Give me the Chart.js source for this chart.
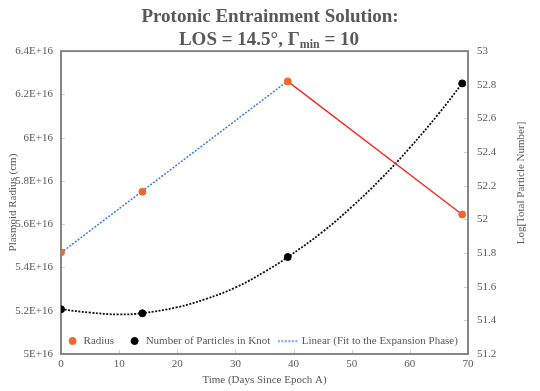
<!DOCTYPE html>
<html>
<head>
<meta charset="utf-8">
<script src="https://cdn.jsdelivr.net/npm/chart.js@4.4.1/dist/chart.umd.min.js"></script>
<style>
html, body { margin: 0; padding: 0; background: #fff; }
</style>
</head>
<body>
<canvas id="chart" width="540" height="391"></canvas>
<script>
// values
const radiusDays = [0, 14, 39, 69];
const radiusCm = [5.47e16, 5.75e16, 6.26e16, 5.645e16];

const particleDays = [0, 14, 39, 69];
const logParticles = [51.466, 51.442, 51.776, 52.808];

// linear fit drawn over the expansion phase
const fitDays = [0, 39];
const fitRadius = [5.468e16, 6.262e16];

// red segment after the peak
const contractDays = [39, 69];
const contractRadius = [6.26e16, 5.645e16];

// dotted trend curve through the particle points
const trendDays = [0, 5, 10, 14, 20, 25, 30, 35, 39, 45, 50, 55, 60, 65, 69];
const trendLog = [51.466, 51.446, 51.435, 51.443, 51.478, 51.528, 51.595, 51.688, 51.776, 51.926, 52.074, 52.24, 52.426, 52.63, 52.808];

const xTicks = [0, 10, 20, 30, 40, 50, 60, 70];
const leftRange = [5e16, 6.4e16];
const rightRange = [51.2, 53];

const grey = '#595959';
const orange = '#F0692A';
const blue = '#3F7BF0';
const serif = "'Liberation Serif', 'Times New Roman', serif";

function pts(xs, ys) {
	return xs.map(function(x, i) { return { x: x, y: ys[i] }; });
}

// little dotted line used as the legend marker of the fit
var fitMark = document.createElement('canvas');
fitMark.width = 26;
fitMark.height = 3;
(function() {
	var c = fitMark.getContext('2d');
	c.strokeStyle = blue;
	c.lineWidth = 1.5;
	c.setLineDash([2, 1.5]);
	c.beginPath();
	c.moveTo(0, 1.5);
	c.lineTo(20, 1.5);
	c.stroke();
})();

// move the legend inside the plot, near its bottom
var legendInside = {
	id: 'legendInside',
	afterLayout: function(chart) {
		var lg = chart.legend, a = chart.chartArea;
		lg.left = a.left - 34;
		lg.right = a.right + 30;
		lg.width = lg.right - lg.left;
		lg.top = 320.5;
		lg.bottom = lg.top + 40;
		lg.height = 40;
	}
};

var frame = {
	id: 'frame',
	beforeDatasetsDraw: function(chart) {
		var ctx = chart.ctx, a = chart.chartArea, s = chart.scales;
		ctx.save();
		ctx.strokeStyle = '#d0d0d0';
		ctx.lineWidth = 1;
		ctx.beginPath();
		s.x.ticks.forEach(function(t) {
			var px = Math.round(s.x.getPixelForValue(t.value)) + 0.5;
			ctx.moveTo(px, a.bottom);
			ctx.lineTo(px, a.bottom - 4);
		});
		s.y.ticks.forEach(function(t) {
			var py = Math.round(s.y.getPixelForValue(t.value)) + 0.5;
			ctx.moveTo(a.left, py);
			ctx.lineTo(a.left + 4, py);
		});
		s.y1.ticks.forEach(function(t) {
			var py = Math.round(s.y1.getPixelForValue(t.value)) + 0.5;
			ctx.moveTo(a.right, py);
			ctx.lineTo(a.right - 4, py);
		});
		ctx.stroke();
		ctx.strokeStyle = '#868686';
		ctx.lineWidth = 2;
		ctx.strokeRect(a.left, a.top, a.right - a.left, a.bottom - a.top);
		ctx.restore();
	},
	afterDraw: function(chart) {
		var ctx = chart.ctx;
		ctx.save();
		ctx.fillStyle = grey;
		ctx.textBaseline = 'middle';

		// second title line, with the subscript
		var big = 'bold 19px ' + serif, small = 'bold 12px ' + serif;
		var p1 = 'LOS = 14.5\u00B0, \u0393', p2 = 'min', p3 = ' = 10';
		ctx.font = big;
		var w1 = ctx.measureText(p1).width, w3 = ctx.measureText(p3).width;
		ctx.font = small;
		var w2 = ctx.measureText(p2).width;
		var x = chart.width / 2 - (w1 + w2 + w3) / 2 - 1, y = 40;
		ctx.textAlign = 'left';
		ctx.font = big;
		ctx.fillText(p1, x, y);
		ctx.font = small;
		ctx.fillText(p2, x + w1, y + 5);
		ctx.font = big;
		ctx.fillText(p3, x + w1 + w2, y);

		// right axis title, reading upwards
		ctx.font = '11px ' + serif;
		ctx.textAlign = 'center';
		ctx.translate(521, 183);
		ctx.rotate(-Math.PI / 2);
		ctx.fillText('Log[Total Particle Number]', 0, 0);
		ctx.restore();
	}
};

var ctx = document.getElementById('chart');

var chart = new Chart(ctx, {
	type: 'scatter',
	data: {
		datasets: [
			{
				label: 'Radius',
				data: pts(radiusDays, radiusCm),
				yAxisID: 'y',
				showLine: false,
				pointRadius: 3.5,
				pointStyle: 'circle',
				backgroundColor: orange,
				borderColor: orange,
				borderWidth: 1,
				order: 0,
				inLegend: true
			},
			{
				label: 'Number of Particles in Knot',
				data: pts(particleDays, logParticles),
				yAxisID: 'y1',
				showLine: false,
				pointRadius: 3.5,
				pointStyle: 'circle',
				backgroundColor: '#000',
				borderColor: '#000',
				borderWidth: 1,
				order: 0,
				inLegend: true
			},
			{
				label: 'Linear (Fit to the Expansion Phase)',
				data: pts(fitDays, fitRadius),
				yAxisID: 'y',
				showLine: true,
				pointRadius: 0,
				pointStyle: fitMark,
				borderColor: blue,
				backgroundColor: blue,
				borderWidth: 1.5,
				borderDash: [2, 1.5],
				order: 2,
				inLegend: true
			},
			{
				label: 'Contraction',
				data: pts(contractDays, contractRadius),
				yAxisID: 'y',
				showLine: true,
				pointRadius: 0,
				borderColor: '#FF2020',
				borderWidth: 1.3,
				order: 2
			},
			{
				label: 'Poly. (Number of Particles in Knot)',
				data: pts(trendDays, trendLog),
				yAxisID: 'y1',
				showLine: true,
				tension: 0.4,
				pointRadius: 0,
				borderColor: '#111',
				borderWidth: 1.8,
				borderDash: [2, 1.5],
				order: 2
			}
		]
	},
	options: {
		responsive: false,
		animation: false,
		layout: { padding: 0 },
		scales: {
			x: {
				type: 'linear',
				position: 'bottom',
				min: 0,
				max: 70,
				afterBuildTicks: function(s) { s.ticks = xTicks.map(function(v) { return { value: v }; }); },
				afterFit: function(s) { s.height = 36; },
				grid: { display: false, drawTicks: false },
				border: { display: false },
				ticks: { color: grey, font: { family: serif, size: 11 }, padding: 4, maxRotation: 0 },
				title: {
					display: true,
					text: 'Time (Days Since Epoch A)',
					color: grey,
					font: { family: serif, size: 11 },
					padding: { top: 0, bottom: 3.5 }
				}
			},
			y: {
				type: 'linear',
				position: 'left',
				min: leftRange[0],
				max: leftRange[1],
				afterFit: function(s) { s.width = 61; },
				grid: { display: false, drawTicks: false },
				border: { display: false },
				ticks: {
					stepSize: 2e15,
					color: grey,
					font: { family: serif, size: 11 },
					padding: 8,
					callback: function(v) { return Number((v / 1e16).toFixed(1)) + 'E+16'; }
				},
				title: {
					display: true,
					text: 'Plasmoid Radius (cm)',
					color: grey,
					font: { family: serif, size: 11 },
					padding: { top: 6.5, bottom: 0 }
				}
			},
			y1: {
				type: 'linear',
				position: 'right',
				min: rightRange[0],
				max: rightRange[1],
				afterFit: function(s) { s.width = 72; },
				grid: { display: false, drawTicks: false },
				border: { display: false },
				ticks: {
					stepSize: 0.2,
					color: grey,
					font: { family: serif, size: 11 },
					padding: 9,
					callback: function(v) { return String(Number(v.toFixed(1))); }
				}
			}
		},
		plugins: {
			tooltip: { enabled: false },
			title: {
				display: true,
				text: ['Protonic Entrainment Solution:', ''],
				color: grey,
				font: { family: serif, size: 19, weight: 'bold', lineHeight: 1.2 },
				padding: { top: 5.5, bottom: 0 }
			},
			legend: {
				position: 'bottom',
				maxHeight: 1,
				labels: {
					usePointStyle: true,
					boxWidth: 11,
					boxHeight: 5,
					padding: 15,
					color: grey,
					font: { family: serif, size: 11 },
					filter: function(item, data) { return !!data.datasets[item.datasetIndex].inLegend; }
				}
			}
		}
	},
	plugins: [legendInside, frame]
});
</script>
</body>
</html>
